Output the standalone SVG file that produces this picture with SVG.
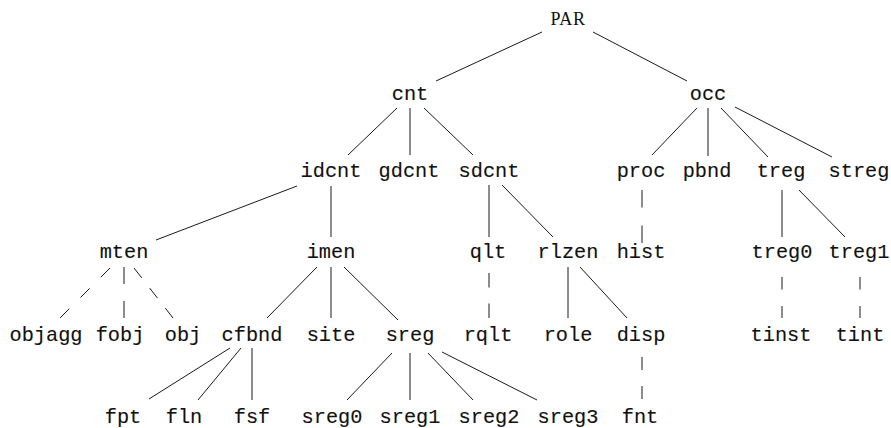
<svg xmlns="http://www.w3.org/2000/svg" width="891" height="428" viewBox="0 0 891 428">
  <style>
    .bg { fill: #ffffff; }
    .lbl { font-family: "Liberation Mono", "DejaVu Sans Mono", monospace; font-size: 20.3px; fill: #111; stroke: #111; stroke-width: 0.12; text-anchor: middle; }
    .root { font-family: "Liberation Serif", "DejaVu Serif", serif; font-size: 18px; fill: #111; text-anchor: middle; letter-spacing: 0.6px; }
    .edge { stroke: #1a1a1a; stroke-width: 1; fill: none; }
  </style>
  <rect class="bg" x="0" y="0" width="891" height="428"/>

  <!-- connectors -->
  <g id="connectors">
    <line class="edge" x1="542" y1="32" x2="436" y2="81"/>
    <line class="edge" x1="593" y1="32" x2="687" y2="81"/>

    <line class="edge" x1="397" y1="108" x2="348" y2="155"/>
    <line class="edge" x1="410" y1="108" x2="410" y2="155"/>
    <line class="edge" x1="424" y1="108" x2="473" y2="155"/>
    <line class="edge" x1="697" y1="108" x2="652" y2="155"/>
    <line class="edge" x1="708" y1="108" x2="708" y2="156"/>
    <line class="edge" x1="721" y1="108" x2="768" y2="157"/>
    <line class="edge" x1="735" y1="107" x2="832" y2="157"/>

    <line class="edge" x1="297" y1="186" x2="156" y2="240"/>
    <line class="edge" x1="331" y1="186" x2="331" y2="237"/>
    <line class="edge" x1="489" y1="185" x2="489" y2="237"/>
    <line class="edge" x1="502" y1="185" x2="553" y2="237"/>
    <line class="edge" x1="642" y1="190" x2="642" y2="243" stroke-dasharray="17.5 18"/>
    <line class="edge" x1="782" y1="190" x2="782" y2="237"/>
    <line class="edge" x1="799" y1="190" x2="845" y2="237"/>

    <line class="edge" x1="110" y1="268" x2="60" y2="318" stroke-dasharray="13 15.8"/>
    <line class="edge" x1="124" y1="267" x2="124" y2="318" stroke-dasharray="17 17"/>
    <line class="edge" x1="134" y1="268" x2="173" y2="318" stroke-dasharray="12.5 13"/>
    <line class="edge" x1="317" y1="267" x2="267" y2="318"/>
    <line class="edge" x1="331" y1="267" x2="331" y2="318"/>
    <line class="edge" x1="344" y1="267" x2="398" y2="320"/>
    <line class="edge" x1="489" y1="273" x2="489" y2="318" stroke-dasharray="14.5 16"/>
    <line class="edge" x1="568" y1="267" x2="568" y2="318"/>
    <line class="edge" x1="580" y1="267" x2="627" y2="318"/>
    <line class="edge" x1="782" y1="277" x2="782" y2="318" stroke-dasharray="12.5 16.5"/>
    <line class="edge" x1="860" y1="277" x2="860" y2="318" stroke-dasharray="12.5 16.5"/>

    <line class="edge" x1="230" y1="348" x2="149" y2="399"/>
    <line class="edge" x1="241" y1="348" x2="198" y2="400"/>
    <line class="edge" x1="252" y1="348" x2="252" y2="400"/>
    <line class="edge" x1="392" y1="353" x2="347" y2="400"/>
    <line class="edge" x1="410" y1="353" x2="410" y2="400"/>
    <line class="edge" x1="428" y1="353" x2="473" y2="400"/>
    <line class="edge" x1="442" y1="352" x2="537" y2="400"/>
    <line class="edge" x1="642" y1="357" x2="642" y2="399" stroke-dasharray="13 16"/>
  </g>

  <!-- nodes -->
  <g id="PAR"><text class="root" x="568" y="25">PAR</text></g>

  <g id="cnt"><text class="lbl" x="410" y="100">cnt</text></g>
  <g id="occ"><text class="lbl" x="708" y="100">occ</text></g>

  <g id="idcnt"><text class="lbl" x="331" y="177">idcnt</text></g>
  <g id="gdcnt"><text class="lbl" x="409" y="177">gdcnt</text></g>
  <g id="sdcnt"><text class="lbl" x="489" y="177">sdcnt</text></g>
  <g id="proc"><text class="lbl" x="641" y="177">proc</text></g>
  <g id="pbnd"><text class="lbl" x="707" y="177">pbnd</text></g>
  <g id="treg"><text class="lbl" x="781" y="177">treg</text></g>
  <g id="streg"><text class="lbl" x="859" y="177">streg</text></g>

  <g id="mten"><text class="lbl" x="124" y="258">mten</text></g>
  <g id="imen"><text class="lbl" x="331" y="258">imen</text></g>
  <g id="qlt"><text class="lbl" x="488" y="258">qlt</text></g>
  <g id="rlzen"><text class="lbl" x="568" y="258">rlzen</text></g>
  <g id="hist"><text class="lbl" x="641" y="258">hist</text></g>
  <g id="treg0"><text class="lbl" x="782" y="258">treg0</text></g>
  <g id="treg1"><text class="lbl" x="859" y="258">treg1</text></g>

  <g id="objagg"><text class="lbl" x="46" y="341">objagg</text></g>
  <g id="fobj"><text class="lbl" x="120" y="341">fobj</text></g>
  <g id="obj"><text class="lbl" x="183" y="341">obj</text></g>
  <g id="cfbnd"><text class="lbl" x="252" y="341">cfbnd</text></g>
  <g id="site"><text class="lbl" x="331" y="341">site</text></g>
  <g id="sreg"><text class="lbl" x="410" y="341">sreg</text></g>
  <g id="rqlt"><text class="lbl" x="488" y="341">rqlt</text></g>
  <g id="role"><text class="lbl" x="568" y="341">role</text></g>
  <g id="disp"><text class="lbl" x="641" y="341">disp</text></g>
  <g id="tinst"><text class="lbl" x="781" y="341">tinst</text></g>
  <g id="tint"><text class="lbl" x="860" y="341">tint</text></g>

  <g id="fpt"><text class="lbl" x="123" y="423">fpt</text></g>
  <g id="fln"><text class="lbl" x="184" y="423">fln</text></g>
  <g id="fsf"><text class="lbl" x="252" y="423">fsf</text></g>
  <g id="sreg0"><text class="lbl" x="332" y="423">sreg0</text></g>
  <g id="sreg1"><text class="lbl" x="410" y="423">sreg1</text></g>
  <g id="sreg2"><text class="lbl" x="489" y="423">sreg2</text></g>
  <g id="sreg3"><text class="lbl" x="568" y="423">sreg3</text></g>
  <g id="fnt"><text class="lbl" x="640" y="423">fnt</text></g>
</svg>
